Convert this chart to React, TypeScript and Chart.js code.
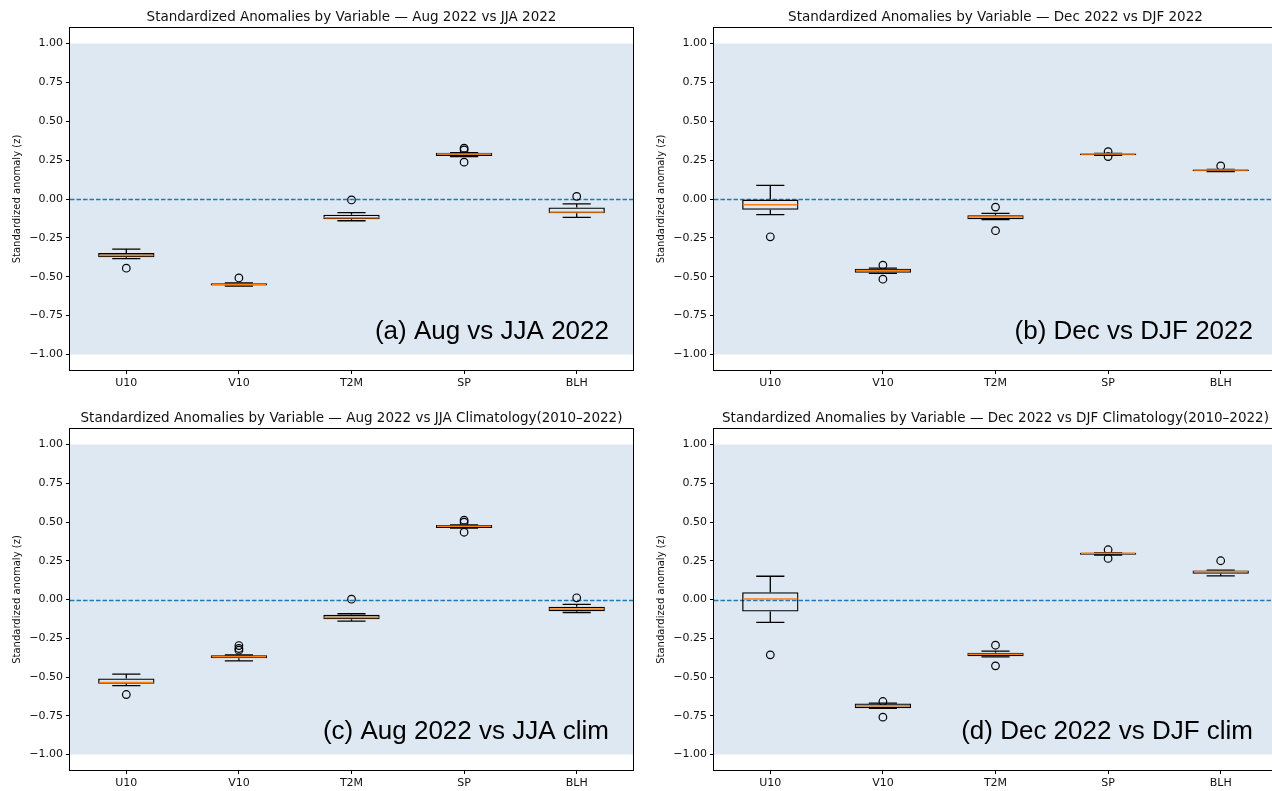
import React, { useEffect, useRef } from "react";
import { Chart, registerables } from "chart.js";

Chart.register(...registerables);

// ---------- data ----------
const VARIABLES = ["U10", "V10", "T2M", "SP", "BLH"];
const Y_TICKS = [-1, -0.75, -0.5, -0.25, 0, 0.25, 0.5, 0.75, 1];

// (a) Aug 2022 vs JJA 2022
const A_LOW = [-0.383, -0.56, -0.14, 0.273, -0.118];
const A_Q1 = [-0.374, -0.556, -0.131, 0.277, -0.092];
const A_MED = [-0.363, -0.55, -0.12, 0.29, -0.084];
const A_Q3 = [-0.348, -0.542, -0.101, 0.297, -0.054];
const A_HIGH = [-0.323, -0.54, -0.088, 0.298, -0.032];
const A_OUT = [[-0.445], [-0.508], [-0.006], [0.237, 0.316, 0.327], [0.017]];

// (b) Dec 2022 vs DJF 2022
const B_LOW = [-0.101, -0.478, -0.133, 0.281, 0.176];
const B_Q1 = [-0.069, -0.475, -0.131, 0.282, 0.179];
const B_MED = [-0.037, -0.46, -0.116, 0.29, 0.187];
const B_Q3 = [-0.004, -0.449, -0.105, 0.292, 0.189];
const B_HIGH = [0.088, -0.445, -0.092, 0.293, 0.19];
const B_OUT = [[-0.243], [-0.426, -0.516], [-0.052, -0.204], [0.273, 0.305], [0.213]];

// (c) Aug 2022 vs JJA climatology
const C_LOW = [-0.555, -0.396, -0.14, 0.46, -0.084];
const C_Q1 = [-0.544, -0.379, -0.127, 0.462, -0.075];
const C_MED = [-0.535, -0.37, -0.116, 0.473, -0.062];
const C_Q3 = [-0.51, -0.359, -0.099, 0.48, -0.047];
const C_HIGH = [-0.482, -0.357, -0.092, 0.482, -0.032];
const C_OUT = [[-0.613], [-0.297, -0.316, -0.327], [0.002], [0.434, 0.499, 0.512], [0.011]];

// (d) Dec 2022 vs DJF climatology
const D_LOW = [-0.148, -0.703, -0.37, 0.287, 0.153];
const D_Q1 = [-0.077, -0.701, -0.366, 0.288, 0.166];
const D_MED = [0.004, -0.686, -0.353, 0.299, 0.181];
const D_Q3 = [0.047, -0.671, -0.344, 0.301, 0.187];
const D_HIGH = [0.15, -0.669, -0.333, 0.302, 0.19];
const D_OUT = [[-0.357], [-0.658, -0.759], [-0.295, -0.428], [0.265, 0.321], [0.25]];

const TITLES = [
  "Standardized Anomalies by Variable \u2014 Aug 2022 vs JJA 2022",
  "Standardized Anomalies by Variable \u2014 Dec 2022 vs DJF 2022",
  "Standardized Anomalies by Variable \u2014 Aug 2022 vs JJA Climatology(2010\u20132022)",
  "Standardized Anomalies by Variable \u2014 Dec 2022 vs DJF Climatology(2010\u20132022)",
];
const LABELS = [
  "(a) Aug vs JJA 2022",
  "(b) Dec vs DJF 2022",
  "(c) Aug 2022 vs JJA clim",
  "(d) Dec 2022 vs DJF clim",
];
const Y_TITLE = "Standardized anomaly (z)";

// ---------- styles / layout ----------
const BAND = "#dde8f2";
const ZERO_LINE = "#1f77b4";
const MEDIAN = "#ff7f0e";
const TEXT = "#111";
const FONT = "'DejaVu Sans'";
const LINE_W = 1.3;

type Panel = {
  low: number[]; q1: number[]; med: number[]; q3: number[]; high: number[]; out: number[][];
  title: string; label: string;
  left: number; top: number; width: number; height: number; areaTop: number; areaBottom: number;
};

const PANELS: Panel[] = [
  { low: A_LOW, q1: A_Q1, med: A_MED, q3: A_Q3, high: A_HIGH, out: A_OUT, title: TITLES[0], label: LABELS[0],
    left: 0, top: 0, width: 640, height: 400, areaTop: 28, areaBottom: 370 },
  { low: B_LOW, q1: B_Q1, med: B_MED, q3: B_Q3, high: B_HIGH, out: B_OUT, title: TITLES[1], label: LABELS[1],
    left: 644, top: 0, width: 640, height: 400, areaTop: 28, areaBottom: 370 },
  { low: C_LOW, q1: C_Q1, med: C_MED, q3: C_Q3, high: C_HIGH, out: C_OUT, title: TITLES[2], label: LABELS[2],
    left: 0, top: 400, width: 640, height: 391, areaTop: 29, areaBottom: 370 },
  { low: D_LOW, q1: D_Q1, med: D_MED, q3: D_Q3, high: D_HIGH, out: D_OUT, title: TITLES[3], label: LABELS[3],
    left: 644, top: 400, width: 640, height: 391, areaTop: 29, areaBottom: 370 },
];

const fmt = (v: number) => {
  const s = Math.abs(v).toFixed(2);
  return v < -1e-9 ? "\u2212" + s : s;
};

const crisp = (v: number) => Math.round(v) + 0.5;

function makePlugin(p: Panel) {
  return {
    id: "boxExtras",
    beforeDatasetsDraw(chart: any) {
      const { ctx, chartArea, scales } = chart;
      const { left, right } = chartArea;
      const y = scales.y;
      ctx.save();
      const yTop = y.getPixelForValue(1);
      const yBot = y.getPixelForValue(-1);
      ctx.fillStyle = BAND;
      ctx.fillRect(left, yTop, right - left, yBot - yTop);
      const y0 = crisp(y.getPixelForValue(0));
      ctx.strokeStyle = ZERO_LINE;
      ctx.lineWidth = 1.4;
      ctx.setLineDash([4.5, 2]);
      ctx.beginPath();
      ctx.moveTo(left, y0);
      ctx.lineTo(right, y0);
      ctx.stroke();
      ctx.restore();
    },
    afterDatasetsDraw(chart: any) {
      const { ctx, scales } = chart;
      const y = scales.y;
      const meta = chart.getDatasetMeta(0);
      ctx.save();
      ctx.lineWidth = LINE_W;
      meta.data.forEach((bar: any, i: number) => {
        const cx = bar.x;
        const w = bar.width;
        const yl = y.getPixelForValue(p.low[i]);
        const yq1 = y.getPixelForValue(p.q1[i]);
        const yq3 = y.getPixelForValue(p.q3[i]);
        const yh = y.getPixelForValue(p.high[i]);
        const ym = y.getPixelForValue(p.med[i]);
        ctx.strokeStyle = "#000";
        ctx.beginPath();
        ctx.moveTo(cx, yq1);
        ctx.lineTo(cx, yl);
        ctx.moveTo(cx, yq3);
        ctx.lineTo(cx, yh);
        ctx.moveTo(cx - w / 4, yl);
        ctx.lineTo(cx + w / 4, yl);
        ctx.moveTo(cx - w / 4, yh);
        ctx.lineTo(cx + w / 4, yh);
        ctx.stroke();
        ctx.strokeStyle = MEDIAN;
        ctx.lineWidth = 1.5;
        ctx.beginPath();
        ctx.moveTo(cx - w / 2 + 1, ym);
        ctx.lineTo(cx + w / 2 - 1, ym);
        ctx.stroke();
        ctx.lineWidth = LINE_W;
      });
      ctx.restore();
    },
    afterDraw(chart: any) {
      const { ctx, chartArea } = chart;
      const { left, right, top, bottom } = chartArea;
      ctx.save();
      ctx.strokeStyle = "#000";
      ctx.lineWidth = 1;
      ctx.strokeRect(crisp(left) - 1, crisp(top) - 1, Math.round(right - left) + 1, Math.round(bottom - top) + 1);
      // title
      ctx.fillStyle = TEXT;
      ctx.font = `13.5px ${FONT}`;
      ctx.textAlign = "center";
      ctx.textBaseline = "middle";
      ctx.fillText(p.title, (left + right) / 2, top - 11);
      // panel label
      ctx.font = "26px 'Liberation Sans'";
      ctx.fillStyle = "#000";
      ctx.textAlign = "right";
      ctx.textBaseline = "alphabetic";
      ctx.fillText(p.label, right - 24, bottom - 31);
      ctx.restore();
    },
  };
}

function PanelChart({ p }: { p: Panel }) {
  const ref = useRef<HTMLCanvasElement | null>(null);
  useEffect(() => {
    if (!ref.current) return;
    const boxes = VARIABLES.map((_, i) => [p.q1[i], p.q3[i]]);
    const fliers = p.out.flatMap((vals, i) => vals.map((v) => ({ x: VARIABLES[i], y: v })));
    const chart = new Chart(ref.current, {
      type: "bar",
      data: {
        labels: VARIABLES,
        datasets: [
          {
            type: "bar",
            data: boxes as any,
            backgroundColor: "rgba(0,0,0,0)",
            borderColor: "#000",
            borderWidth: LINE_W,
            borderSkipped: false,
            inflateAmount: 0,
            barPercentage: 0.5,
            categoryPercentage: 1,
          } as any,
          {
            type: "scatter",
            data: fliers as any,
            pointStyle: "circle",
            pointRadius: 3.8,
            pointBorderWidth: 1.2,
            pointBorderColor: "#000",
            pointBackgroundColor: "rgba(0,0,0,0)",
            showLine: false,
          } as any,
        ],
      },
      options: {
        responsive: false,
        animation: false,
        devicePixelRatio: 1,
        layout: { padding: { top: p.areaTop, right: 7, left: 0, bottom: 0 } },
        plugins: { legend: { display: false }, tooltip: { enabled: false }, title: { display: false } },
        scales: {
          x: {
            type: "category",
            offset: true,
            grid: { display: true, offset: false, drawOnChartArea: false, drawTicks: true, tickLength: 4, tickColor: "#000", tickWidth: 1 },
            border: { display: false },
            ticks: { color: TEXT, font: { family: FONT, size: 11 }, padding: 3, maxRotation: 0, autoSkip: false },
            afterFit: (s: any) => { s.height = p.height - p.areaBottom; },
          },
          y: {
            type: "linear",
            min: -1.1,
            max: 1.1,
            grid: { display: true, drawOnChartArea: false, drawTicks: true, tickLength: 4, tickColor: "#000", tickWidth: 1 },
            border: { display: false },
            afterBuildTicks: (s: any) => { s.ticks = Y_TICKS.map((v) => ({ value: v })); },
            ticks: { color: TEXT, font: { family: FONT, size: 11 }, padding: 3, callback: (v: any) => fmt(Number(v)) },
            title: { display: true, text: Y_TITLE, color: TEXT, font: { family: FONT, size: 10 }, padding: { top: 11, bottom: 0 } },
            afterFit: (s: any) => { s.width = 70; },
          },
        },
      },
      plugins: [makePlugin(p)],
    } as any);
    return () => chart.destroy();
  }, [p]);
  return (
    <canvas
      ref={ref}
      width={p.width}
      height={p.height}
      style={{ position: "absolute", left: p.left, top: p.top, width: p.width, height: p.height }}
    />
  );
}

export default function App() {
  return (
    <div style={{ position: "fixed", left: 0, top: 0, width: 1272, height: 791, overflow: "hidden", background: "#fff" }}>
      {PANELS.map((p, i) => (
        <PanelChart key={i} p={p} />
      ))}
    </div>
  );
}
